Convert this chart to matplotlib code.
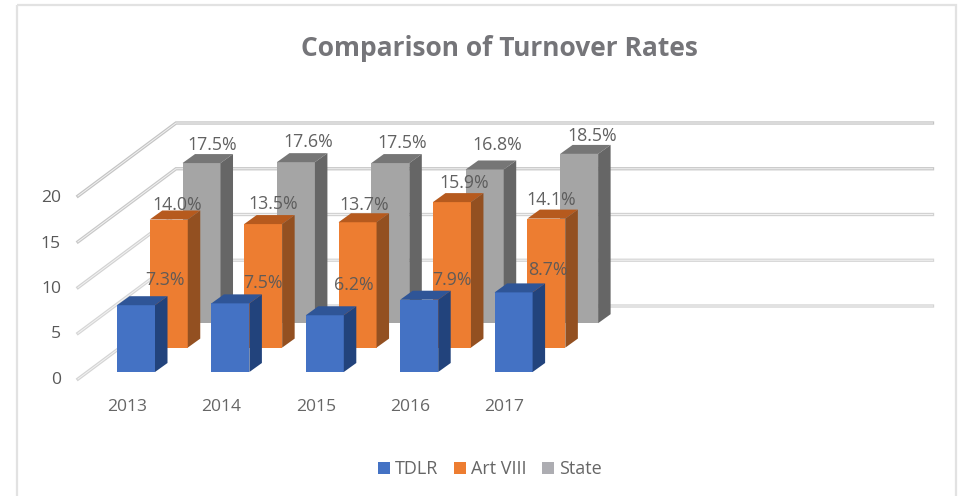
# coding=utf-8
import matplotlib
matplotlib.use("Agg")
from matplotlib import pyplot as plt
from matplotlib.patches import Polygon, Patch, Rectangle

plt.rcParams["font.family"] = ["Open Sans", "DejaVu Sans"]

# 数据
years = ["2013", "2014", "2015", "2016", "2017"]
tdlr = [7.3, 7.5, 6.2, 7.9, 8.7]
art_viii = [14.0, 13.5, 13.7, 15.9, 14.1]
state = [17.5, 17.6, 17.5, 16.8, 18.5]
y_ticks = [0, 5, 10, 15, 20]

# 图例和颜色 (front, top, side)
series_names = ["TDLR", "Art VIII", "State"]
series_values = [tdlr, art_viii, state]
colors = [("#4472C4", "#2F5597", "#22437C"),
          ("#ED7D31", "#B65A1E", "#935021"),
          ("#A5A5A5", "#767676", "#666666")]
legend_colors = ["#4472C4", "#ED7D31", "#ADADB2"]

# 标签相对柱顶的偏移
label_dx = [[29, 32.6, 29, 33, 34.4], [8, 10, 7, 12.6, 5], [11, 12, 11.5, 13, 12.7]]
label_dy = [[-28, -23, -33, -22, -25], [-17, -23, -20, -22, -21], [-21, -23, -23, -27, -20]]

# 斜投影参数 (pixels)
front_x, floor_y = 78, 379
wall_dx, wall_dy = 98, -73
unit = 9.15
grid_end = 932.5
bar_w = 38
bar_start = 117
cat_step = 94.4
series_dy = 24.4
bar_dx, bar_dy = 12.5, -9


def project(cat, ser, val):
    """front-left-bottom corner of a bar, lifted by val"""
    x = bar_start + cat * cat_step + ser * series_dy * wall_dx / -wall_dy
    y = floor_y - 7 - ser * series_dy - val * unit
    return x, y


fig = plt.figure(figsize=(9.61, 4.96), dpi=100)
ax = fig.add_axes([0, 0, 1, 1])
ax.set_xlim(0, 961)
ax.set_ylim(496, 0)
ax.axis("off")

# 外框
ax.add_patch(Rectangle((17, 5), 939, 500, fill=False, ec="#E2E2E2", lw=1.6))

# 网格线
grid_cols = ["#D4D4D4", "#D6D6D6", "#D2D2D2", "#C8C8C8", "#C4C4C4"]
for t, c in zip(y_ticks, grid_cols):
    y = floor_y - t * unit
    xs = [front_x, front_x + wall_dx, grid_end]
    ys = [y, y + wall_dy, y + wall_dy]
    ax.plot(xs, ys, color=c, lw=2.4, solid_joinstyle="miter", zorder=1)
    ax.plot(xs, ys, color="#F2F2F2", lw=0.7, solid_joinstyle="miter", zorder=1.1)
    ax.text(61, floor_y + 0.5 - t * 9.05, str(t), ha="right", va="center", fontsize=12.6, color="#595959")

# 从后往前画柱子
for s in [2, 1, 0]:
    front, top, side = colors[s]
    for c, v in enumerate(series_values[s]):
        x, y0 = project(c, s, 0)
        _, y1 = project(c, s, v)
        ax.add_patch(Polygon([(x, y0), (x + bar_w, y0), (x + bar_w, y1), (x, y1)],
                             fc=front, ec="none", zorder=3 + (2 - s)))
        ax.add_patch(Polygon([(x, y1), (x + bar_w, y1), (x + bar_w + bar_dx, y1 + bar_dy),
                              (x + bar_dx, y1 + bar_dy)], fc=top, ec="none", zorder=3 + (2 - s)))
        ax.add_patch(Polygon([(x + bar_w, y0), (x + bar_w + bar_dx, y0 + bar_dy),
                              (x + bar_w + bar_dx, y1 + bar_dy), (x + bar_w, y1)],
                             fc=side, ec="none", zorder=3 + (2 - s)))

# 数据标签
for s in range(3):
    for c, v in enumerate(series_values[s]):
        x, y1 = project(c, s, v)
        ax.text(x + bar_w / 2 + label_dx[s][c], y1 + label_dy[s][c] + 2.5, "%.1f%%" % v,
                ha="center", va="center", fontsize=12.8, color="#595959", alpha=0.95, zorder=10)

# x轴刻度
for c, year in enumerate(years):
    x, _ = project(c, 0, 0)
    ax.text(x + 10, 407, year, ha="center", va="center", fontsize=12.6, color="#666666")

# 标题
ax.text(499, 48, "Comparison of Turnover Rates", ha="center", va="center",
        fontsize=19, fontweight="bold", color="#757579")

# 图例
handles = [Patch(fc=c, ec="none", label=n) for c, n in zip(legend_colors, series_names)]
ax.legend(handles=handles, loc="center", bbox_to_anchor=(490 / 961, 1 - 469 / 496), ncol=3,
          frameon=False, fontsize=13, labelcolor="#666666", handlelength=0.66, handleheight=0.66,
          handletextpad=0.28, columnspacing=0.88, borderpad=0)

fig.savefig("out.png", dpi=100)
